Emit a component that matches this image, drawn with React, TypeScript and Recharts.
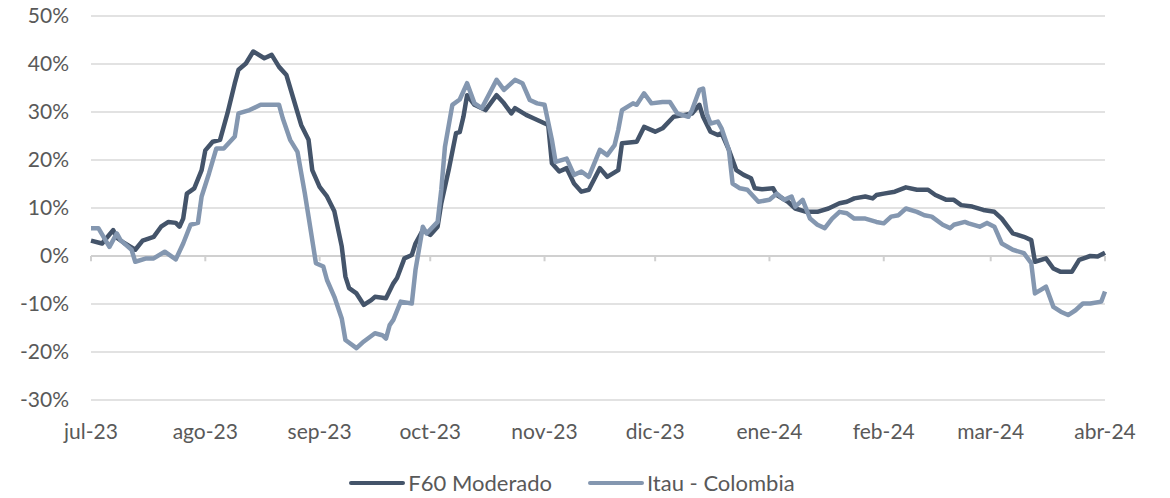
import { CartesianGrid, Legend, Line, LineChart, ReferenceLine, XAxis, YAxis } from "recharts";

// días desde 1-jul-23
const monthStarts = [0, 31, 62, 92, 123, 153, 184, 215, 244, 275];
const monthLabels = ["jul-23", "ago-23", "sep-23", "oct-23", "nov-23", "dic-23", "ene-24", "feb-24", "mar-24", "abr-24"];
const yTicks = [-30, -20, -10, 0, 10, 20, 30, 40, 50];

const f60Days = [
  0, 3, 6, 7, 9, 12, 14, 17, 19, 21, 23, 24, 25, 26, 28, 30, 31, 33, 35, 37, 39, 40, 42, 44, 47, 49, 51, 53, 55, 57,
  59, 60, 62, 64, 66, 68, 69, 70, 72, 74, 76, 77, 80, 82, 83, 85, 87, 88, 90, 92, 94, 95, 97, 99, 100, 101, 102, 104,
  107, 110, 112, 114, 115, 118, 120, 124, 125, 127, 129, 131, 133, 135, 138, 140, 143, 144, 148, 150, 153, 155, 158,
  161, 163, 165, 166, 168, 170, 171, 173, 175, 177, 179, 180, 182, 185, 186, 189, 191, 194, 197, 200, 203, 205, 207,
  210, 212, 213, 215, 218, 221, 224, 227, 229, 232, 234, 236, 239, 242, 245, 247, 250, 253, 255, 256, 259, 261, 263,
  266, 268, 271, 273, 275,
];
const f60Values = [
  3.2, 2.6, 5.4, 3.8, 2.7, 1.3, 3.2, 4.0, 6.1, 7.1, 6.9, 6.1, 7.8, 13.0, 14.1, 17.9, 22.0, 23.8, 24.2, 29.7, 36.0,
  38.8, 40.1, 42.6, 41.2, 41.9, 39.4, 37.7, 32.5, 27.3, 24.2, 17.9, 14.4, 12.4, 9.3, 2.0, -4.3, -6.7, -7.8, -10.2,
  -9.2, -8.5, -8.8, -5.7, -4.6, -0.5, 0.2, 2.6, 5.4, 4.4, 6.1, 11.0, 17.9, 25.6, 25.8, 29.0, 33.5, 31.5, 30.4, 33.5,
  31.8, 29.7, 30.8, 29.4, 28.7, 27.3, 19.3, 17.6, 18.3, 15.1, 13.4, 13.8, 18.3, 16.5, 17.9, 23.5, 23.8, 26.9, 25.9,
  26.6, 29.0, 29.4, 29.7, 31.5, 29.0, 25.9, 25.2, 25.6, 22.1, 17.9, 16.9, 16.2, 14.1, 13.9, 14.1, 12.7, 11.3, 9.9,
  9.2, 9.2, 9.9, 11.0, 11.3, 12.0, 12.4, 12.0, 12.7, 13.0, 13.4, 14.3, 13.8, 13.8, 12.7, 11.7, 11.7, 10.6, 10.3, 9.6,
  9.2, 7.8, 4.7, 4.0, 3.3, -1.2, -0.5, -2.6, -3.3, -3.3, -0.8, 0.0, -0.1, 0.7,
];

const itauDays = [
  0, 2, 5, 7, 8, 11, 12, 15, 17, 20, 23, 25, 27, 29, 30, 32, 34, 36, 39, 40, 43, 46, 49, 51, 52, 54, 56, 58, 59, 61,
  63, 64, 66, 68, 69, 72, 74, 77, 79, 80, 81, 82, 84, 87, 88, 90, 91, 94, 95, 96, 98, 100, 102, 104, 106, 110, 112,
  115, 117, 119, 121, 123, 125, 126, 129, 131, 133, 135, 138, 140, 142, 143, 144, 147, 148, 150, 152, 155, 157, 159,
  162, 163, 165, 166, 167, 168, 170, 171, 173, 174, 176, 178, 181, 184, 186, 188, 190, 191, 193, 195, 197, 199, 201,
  203, 205, 207, 210, 213, 215, 217, 219, 221, 224, 226, 228, 231, 233, 234, 237, 238, 241, 243, 245, 247, 250, 253,
  255, 256, 259, 261, 263, 265, 267, 269, 271, 274, 275,
];
const itauValues = [
  5.8, 5.8, 1.9, 4.7, 3.3, 1.3, -1.2, -0.5, -0.5, 0.9, -0.7, 2.6, 6.5, 6.9, 12.4, 17.2, 22.4, 22.4, 24.9, 29.7, 30.4,
  31.5, 31.5, 31.5, 28.7, 24.2, 21.7, 13.0, 8.2, -1.5, -2.2, -5.0, -8.5, -13.0, -17.5, -19.2, -17.8, -16.1, -16.5,
  -17.2, -14.4, -13.3, -9.5, -9.9, -2.9, 6.1, 4.7, 7.1, 13.8, 22.8, 31.5, 32.6, 36.0, 31.8, 30.8, 36.7, 34.6, 36.7,
  36.0, 32.5, 31.8, 31.5, 24.2, 19.6, 20.3, 16.9, 17.6, 16.5, 22.1, 21.0, 23.1, 26.3, 30.4, 31.8, 31.5, 33.9, 31.8,
  32.1, 32.1, 29.7, 29.0, 30.4, 34.6, 34.9, 29.7, 27.6, 28.0, 26.6, 22.1, 15.1, 14.1, 13.8, 11.3, 11.7, 13.0, 11.7,
  12.4, 10.3, 11.7, 7.8, 6.5, 5.8, 7.8, 9.2, 8.9, 7.8, 7.8, 7.1, 6.8, 8.2, 8.5, 9.9, 9.2, 8.5, 8.2, 6.5, 5.8, 6.5,
  7.1, 6.8, 6.1, 6.9, 6.1, 2.6, 1.3, 0.6, -1.5, -7.8, -6.4, -10.6, -11.6, -12.3, -11.3, -9.9, -9.9, -9.5, -7.4,
];

const f60Data = f60Days.map((d, i) => ({ d, v: f60Values[i] }));
const itauData = itauDays.map((d, i) => ({ d, v: itauValues[i] }));

const DARK = "#44546a";
const LIGHT = "#8497b0";
const FONT = "Lato, 'Open Sans', sans-serif";

function LegendBox() {
  const items = [
    { name: "F60 Moderado", color: DARK },
    { name: "Itau - Colombia", color: LIGHT },
  ];
  return (
    <div
      style={{
        display: "flex",
        justifyContent: "center",
        gap: 36,
        paddingTop: 9,
        paddingLeft: 39,
        fontFamily: FONT,
        fontSize: 22,
        color: "#595959",
      }}
    >
      {items.map((it) => (
        <div key={it.name} style={{ display: "flex", alignItems: "center" }}>
          <span style={{ display: "inline-block", width: 56, height: 4, borderRadius: 2, background: it.color, marginRight: 3 }} />
          <span>{it.name}</span>
        </div>
      ))}
    </div>
  );
}

export default function App() {
  return (
    <div style={{ position: "absolute", left: 0, top: 0, width: 1170, height: 498, background: "#fff" }}>
      <LineChart width={1170} height={498} margin={{ top: 16, right: 65, left: 0, bottom: 0 }}>
        <CartesianGrid vertical={false} stroke="#d9d9d9" strokeWidth={1.3} />
        <XAxis
          type="number"
          dataKey="d"
          domain={[0, 275]}
          ticks={monthStarts}
          tickFormatter={(v: number) => monthLabels[monthStarts.indexOf(v)]}
          axisLine={false}
          tickLine={false}
          tickSize={0}
          tickMargin={24}
          height={60}
          interval={0}
          tick={{ fill: "#595959", fontSize: 21, fontFamily: FONT }}
        />
        <YAxis
          type="number"
          domain={[-30, 50]}
          ticks={yTicks}
          tickFormatter={(v: number) => `${v}%`}
          axisLine={false}
          tickLine={false}
          tickSize={0}
          tickMargin={22}
          width={91}
          interval={0}
          tick={{ fill: "#595959", fontSize: 21, fontFamily: FONT }}
        />
        <ReferenceLine y={0} stroke="#d0d0d0" strokeWidth={2} />
        {monthStarts.map((m) => (
          <ReferenceLine
            key={m}
            segment={[
              { x: m, y: 0 },
              { x: m, y: -1.1 },
            ]}
            stroke="#d0d0d0"
            strokeWidth={2}
          />
        ))}
        <Legend verticalAlign="bottom" height={38} content={() => <LegendBox />} />
        <Line
          data={f60Data}
          dataKey="v"
          name="F60 Moderado"
          type="linear"
          stroke={DARK}
          strokeWidth={4.5}
          strokeLinejoin="round"
          dot={false}
          isAnimationActive={false}
        />
        <Line
          data={itauData}
          dataKey="v"
          name="Itau - Colombia"
          type="linear"
          stroke={LIGHT}
          strokeWidth={4.5}
          strokeLinejoin="round"
          dot={false}
          isAnimationActive={false}
        />
      </LineChart>
    </div>
  );
}
